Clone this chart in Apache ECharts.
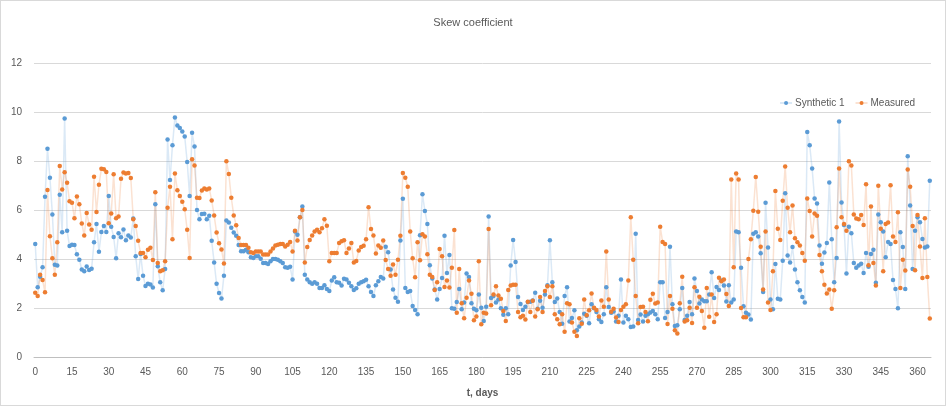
<!DOCTYPE html>
<html>
<head>
<meta charset="utf-8">
<script src="https://cdn.jsdelivr.net/npm/echarts@6/dist/echarts.min.js"></script>
<style>
html,body{margin:0;padding:0;background:#fff;}
#chart{width:946px;height:406px;box-sizing:border-box;border:1px solid #d9d9d9;}
</style>
</head>
<body>
<div id="chart"></div>
<script>
const chartTitle = 'Skew coefficient';
const xAxisName = 't, days';
const seriesNames = ['Synthetic 1', 'Measured'];

const synthetic = [
4.61,2.85,3.28,3.66,6.54,8.5,7.32,5.82,3.77,3.73,
6.62,5.09,9.73,5.15,4.53,4.58,4.57,4.19,3.97,3.57,
3.5,3.69,3.55,3.6,4.68,5.43,4.3,5.1,5.35,5.1,
6.57,5.32,4.9,4.03,5.05,4.89,5.2,4.77,4.96,4.88,
5.65,4.11,3.18,4.2,3.32,2.9,2.99,2.96,2.84,6.23,
3.7,3.05,2.72,3.59,8.88,7.22,8.64,9.78,9.45,9.35,
9.2,9.0,7.96,6.57,9.15,8.59,6.0,5.62,5.84,5.85,
5.62,5.77,4.74,3.86,2.99,2.61,2.39,3.32,5.57,5.49,
5.28,5.08,4.95,4.57,4.32,4.32,4.38,4.28,4.07,4.04,
4.11,4.11,4.01,3.84,3.84,3.8,3.91,4.0,4.0,3.97,
3.91,3.84,3.66,3.64,3.68,3.16,5.12,4.99,5.7,6.14,
3.36,3.16,3.05,2.99,3.05,2.99,2.82,2.82,2.93,2.78,
2.69,3.12,3.26,3.05,3.03,2.92,3.19,3.16,3.03,2.89,
2.73,2.81,2.99,3.05,3.09,3.15,2.89,2.65,2.49,2.93,
3.09,3.27,3.2,4.5,4.28,3.57,2.76,2.42,2.26,4.76,
6.46,2.82,2.65,2.69,2.08,1.92,1.74,4.97,6.64,5.96,
5.43,3.74,3.2,2.76,2.35,2.78,3.22,4.95,3.43,4.16,
1.99,1.97,2.24,2.78,1.95,2.22,3.41,3.27,2.19,1.97,
1.91,2.55,2.01,1.47,2.05,5.73,2.41,2.49,2.22,2.35,
1.99,1.72,1.99,1.74,3.73,4.78,3.88,2.45,2.16,1.92,
2.05,2.24,2.26,2.31,2.62,1.97,2.3,2.01,2.55,2.93,
4.77,3.05,2.24,2.39,1.84,1.36,2.49,2.85,1.45,1.59,
1.91,1.09,1.24,1.41,1.77,1.68,1.38,2.15,1.99,1.84,
1.54,1.43,1.74,2.85,2.04,1.81,1.86,1.45,1.68,3.16,
1.41,1.68,1.54,1.22,1.24,5.03,1.51,1.73,1.45,1.68,
1.74,1.82,1.88,1.74,1.54,3.05,3.05,1.59,1.84,4.5,
2.15,1.27,1.3,1.95,2.82,1.51,1.68,2.24,1.74,3.2,
2.69,2.18,2.35,2.28,2.28,2.55,3.46,2.41,2.86,2.73,
3.12,2.92,2.27,2.93,2.22,2.35,5.12,5.09,3.64,2.07,
1.81,1.73,1.53,5.03,5.09,4.92,4.23,2.65,6.3,4.47,
2.35,1.95,3.8,2.38,2.35,3.93,6.68,4.14,3.86,4.49,
3.57,3.05,2.72,2.45,2.22,9.18,8.64,7.69,6.47,6.27,
4.55,3.81,4.27,4.65,7.12,4.81,3.05,4.04,9.61,6.31,
5.39,3.41,5.32,5.05,3.84,3.64,3.73,3.81,3.43,4.24,
3.68,4.2,4.38,3.03,5.82,5.5,5.12,4.07,4.69,4.61,
3.14,2.78,1.99,5.09,4.49,2.78,8.19,6.18,3.59,5.15,
5.7,5.5,4.82,4.47,4.51,7.19
];

const measured = [
2.62,2.49,3.36,3.14,2.64,6.82,4.93,4.03,3.36,4.68,
7.8,6.84,7.54,7.11,6.36,6.3,5.66,6.55,6.23,5.45,
4.96,5.88,5.41,5.19,7.36,5.92,7.03,7.68,7.66,7.55,
5.46,5.86,7.46,5.66,5.73,7.28,7.53,7.49,7.51,7.31,
5.62,5.35,4.74,4.24,4.24,4.07,4.38,4.46,3.96,6.72,
3.84,3.5,3.54,3.91,6.09,6.95,4.81,7.49,6.81,6.57,
6.34,6.03,5.19,4.04,8.07,7.82,6.5,6.49,6.8,6.88,
6.84,6.88,6.39,5.78,5.08,4.64,4.39,3.82,7.99,7.47,
6.5,5.78,5.38,4.86,4.57,4.57,4.57,4.46,4.28,4.24,
4.31,4.31,4.31,4.18,4.18,4.18,4.31,4.43,4.55,4.58,
4.61,4.61,4.51,4.58,4.69,4.31,5.15,4.76,5.7,6.0,
3.86,4.49,4.78,4.96,5.12,5.19,5.09,5.26,5.62,5.36,
3.91,4.24,4.24,4.24,4.65,4.72,4.77,4.24,4.43,4.65,
3.86,3.92,4.35,4.49,4.54,4.81,6.11,5.22,4.96,4.22,
4.55,4.46,4.76,3.96,3.59,3.32,3.78,3.36,3.97,4.95,
7.51,7.32,6.95,5.12,4.03,3.26,4.68,3.95,5.01,4.92,
4.19,3.36,3.27,2.73,3.05,4.41,4.11,2.86,3.12,2.84,
3.64,5.18,1.81,3.59,2.19,1.58,2.42,3.12,2.58,1.5,
1.65,3.91,1.34,1.81,1.78,5.22,2.11,2.55,2.89,2.51,
2.38,1.88,1.47,2.73,2.92,2.95,2.95,1.84,1.62,1.68,
1.53,2.26,1.84,2.3,1.65,1.95,2.45,1.84,2.69,2.89,
2.45,2.89,1.74,1.54,1.34,1.74,1.03,2.19,2.15,1.41,
1.03,0.86,1.58,1.36,2.35,1.7,1.91,2.59,2.01,1.92,
1.65,2.31,2.05,4.31,2.35,1.85,1.97,1.61,1.43,1.92,
2.05,2.15,3.12,5.7,3.97,2.49,1.38,2.04,2.05,1.84,
1.46,2.34,2.58,2.18,2.22,5.32,4.69,4.61,1.35,2.49,
1.97,1.09,0.96,2.19,3.28,1.45,1.5,2.01,1.39,2.85,
2.01,2.46,1.88,1.19,2.82,1.64,2.55,1.43,1.74,3.23,
3.09,3.16,2.57,2.08,7.24,3.66,7.49,7.24,2.0,1.62,
1.62,4.0,4.81,5.97,7.35,5.93,4.5,2.76,5.12,2.22,
1.92,3.5,6.78,5.23,4.78,6.38,7.78,6.09,5.09,6.18,
4.85,4.68,4.55,4.24,3.93,6.47,5.96,4.92,5.86,5.77,
4.16,3.5,2.95,2.59,2.76,1.97,2.72,5.3,7.69,5.7,
5.43,5.15,7.99,7.82,5.82,5.65,5.62,5.8,5.39,7.05,
3.74,6.14,3.84,2.92,6.99,5.23,3.5,5.43,5.49,7.01,
4.92,4.69,5.91,2.82,3.97,3.53,7.65,6.95,5.35,3.54,
5.8,4.51,3.22,5.66,3.27,1.57
];

// day categories 0..365 (one per data point)
const days = synthetic.map((v, i) => String(i));

const chart = echarts.init(document.getElementById('chart'), null, {renderer: 'canvas'});
const txt = '#595959';
chart.setOption({
  animation: false,
  backgroundColor: '#fff',
  textStyle: {fontFamily: 'Liberation Sans, Arial, sans-serif'},
  title: {
    text: chartTitle, left: 'center', top: 11,
    textStyle: {fontSize: 11, fontWeight: 'normal', color: txt, fontFamily: 'Liberation Sans, Arial, sans-serif'}
  },
  legend: {
    top: 92, right: 25, itemGap: 10, itemWidth: 12, itemHeight: 5,
    textStyle: {fontSize: 10, color: txt, padding: [0, 0, 0, -2]},
    data: seriesNames
  },
  grid: {left: 33, right: 14, top: 62, bottom: 48, containLabel: false},
  xAxis: {
    type: 'category', data: days, boundaryGap: true,
    axisLine: {lineStyle: {color: '#bfbfbf'}},
    axisTick: {show: false},
    axisLabel: {interval: 14, color: txt, fontSize: 10, margin: 10},
    splitLine: {show: false},
    name: xAxisName, nameLocation: 'middle', nameGap: 31,
    nameTextStyle: {fontSize: 10, fontWeight: 'bold', color: txt}
  },
  yAxis: {
    type: 'value', min: 0, max: 12, interval: 2,
    axisLine: {show: false}, axisTick: {show: false},
    axisLabel: {color: txt, fontSize: 10, margin: 12},
    splitLine: {lineStyle: {color: '#d9d9d9'}}
  },
  series: [
    {
      name: seriesNames[0], type: 'line', data: synthetic,
      symbol: 'circle', symbolSize: 4.5, showAllSymbol: true,
      itemStyle: {color: '#5B9BD5'},
      lineStyle: {color: 'rgba(91,155,213,0.22)', width: 1.5}
    },
    {
      name: seriesNames[1], type: 'line', data: measured,
      symbol: 'circle', symbolSize: 4.5, showAllSymbol: true,
      itemStyle: {color: '#ED7D31'},
      lineStyle: {color: 'rgba(237,125,49,0.22)', width: 1.5}
    }
  ]
});
</script>
</body>
</html>
